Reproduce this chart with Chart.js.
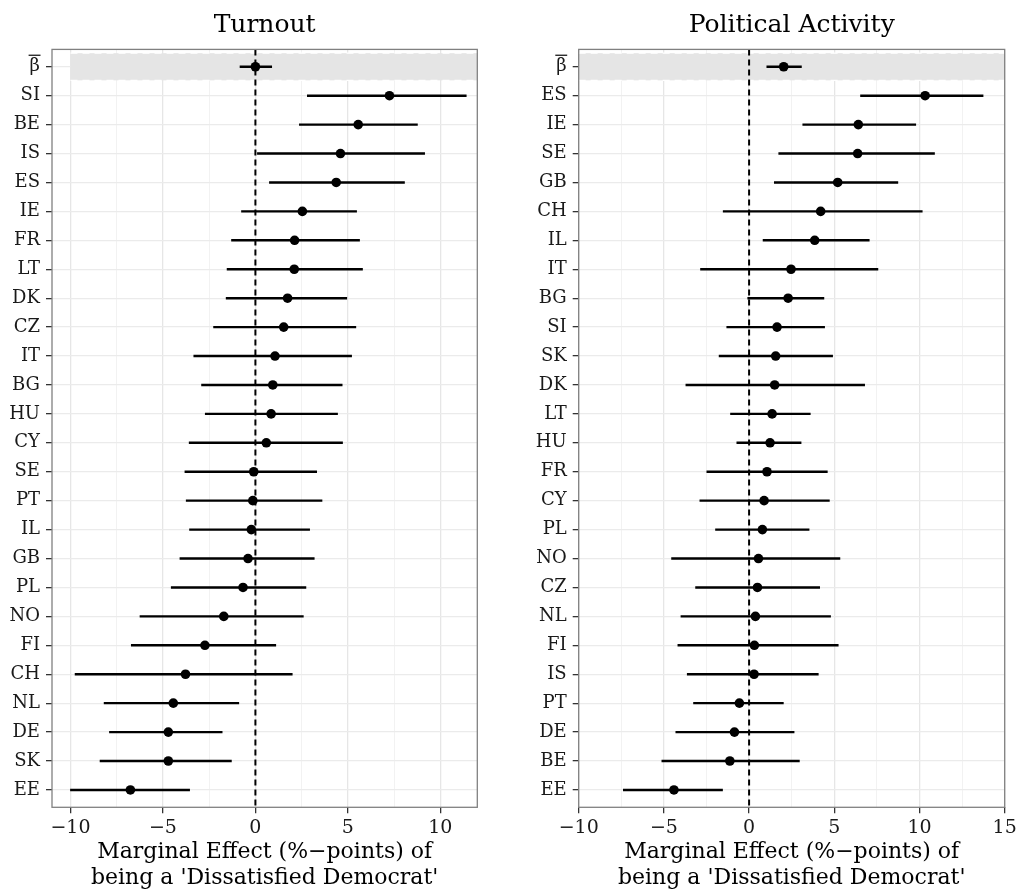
<!DOCTYPE html>
<html><head><meta charset="utf-8">
<script src="https://cdn.jsdelivr.net/npm/chart.js@4/dist/chart.umd.min.js"></script>
<style>
html,body{margin:0;padding:0;background:#fff;}
#wrap{position:relative;width:1016px;height:896px;overflow:hidden;}
canvas{position:absolute;top:0;}
</style></head><body>
<div id="wrap"><canvas id="c1" width="508" height="896" style="left:0"></canvas><canvas id="c2" width="508" height="896" style="left:508px"></canvas></div>
<script>
const BETA = '\u03B2';   // drawn with an overline (β̄)

// ---- Turnout panel ----
const turnoutLabels = [BETA,'SI','BE','IS','ES','IE','FR','LT','DK','CZ','IT','BG','HU','CY','SE','PT','IL','GB','PL','NO','FI','CH','NL','DE','SK','EE'];
const turnoutEst = [0.00, 7.25, 5.56, 4.60, 4.37, 2.54, 2.12, 2.10, 1.74, 1.53, 1.06, 0.94, 0.85, 0.59, -0.09, -0.14, -0.22, -0.40, -0.67, -1.71, -2.73, -3.78, -4.44, -4.71, -4.71, -6.76];
const turnoutLo  = [-0.85, 2.79, 2.36, 0.09, 0.74, -0.77, -1.31, -1.55, -1.60, -2.28, -3.35, -2.93, -2.73, -3.60, -3.83, -3.76, -3.58, -4.10, -4.57, -6.26, -6.73, -9.77, -8.20, -7.91, -8.42, -10.02];
const turnoutHi  = [0.90, 11.42, 8.78, 9.17, 8.08, 5.49, 5.65, 5.81, 4.96, 5.45, 5.22, 4.71, 4.46, 4.73, 3.33, 3.62, 2.95, 3.20, 2.75, 2.61, 1.12, 2.01, -0.88, -1.78, -1.28, -3.54];
const turnoutMajorTicks = [-10, -5, 0, 5, 10];
const turnoutMinorTicks = [-7.5, -2.5, 2.5, 7.5];
const turnoutRange = [-11, 12];

// ---- Political Activity panel ----
const activityLabels = [BETA,'ES','IE','SE','GB','CH','IL','IT','BG','SI','SK','DK','LT','HU','FR','CY','PL','NO','CZ','NL','FI','IS','PT','DE','BE','EE'];
const activityEst = [2.03, 10.33, 6.41, 6.37, 5.20, 4.20, 3.85, 2.46, 2.29, 1.64, 1.56, 1.50, 1.35, 1.23, 1.05, 0.88, 0.78, 0.55, 0.49, 0.37, 0.31, 0.29, -0.57, -0.86, -1.13, -4.41];
const activityLo  = [1.02, 6.52, 3.13, 1.72, 1.46, -1.54, 0.80, -2.87, -0.10, -1.33, -1.78, -3.73, -1.11, -0.74, -2.50, -2.91, -1.99, -4.57, -3.16, -4.02, -4.20, -3.65, -3.28, -4.32, -5.14, -7.40];
const activityHi  = [3.09, 13.75, 9.80, 10.90, 8.75, 10.18, 7.07, 7.58, 4.41, 4.45, 4.92, 6.80, 3.61, 3.07, 4.61, 4.73, 3.54, 5.35, 4.16, 4.80, 5.25, 4.08, 2.03, 2.66, 2.97, -1.54];
const activityMajorTicks = [-10, -5, 0, 5, 10, 15];
const activityMinorTicks = [-7.5, -2.5, 2.5, 7.5, 12.5];
const activityRange = [-10, 15];

const REF_LINE = 0;
const BAND_FROM = -10;
const X_TITLE = ['Marginal Effect (%\u2212points) of', "being a 'Dissatisfied Democrat'"];
const FONT = 'DejaVu Serif';
const Y_FONT_SIZE = 18, Y_TICK_LEN = 6, Y_TICK_PAD = 6;

function fmt(v){ return v < 0 ? '\u2212' + Math.abs(v) : String(v); }

function makeChart(id, o) {
  const n = o.labels.length;
  const yMin = -0.6, yMax = n - 1 + 0.6;
  const segs = [];
  o.lo.forEach((l, i) => { segs.push({x:l, y:i}); segs.push({x:o.hi[i], y:i}); segs.push({x:null, y:null}); });
  const pts = o.est.map((v, i) => ({x:v, y:i}));
  const isMajor = v => o.major.includes(v);

  const panelPlugin = {
    id: 'panel' + id,
    beforeDatasetsDraw(chart) {
      const {ctx, chartArea: a, scales: {x, y}} = chart;
      const x0 = Math.max(a.left, x.getPixelForValue(BAND_FROM));
      const yt = y.getPixelForValue(-0.47), yb = y.getPixelForValue(0.47);
      ctx.save();
      ctx.fillStyle = '#E5E5E5';
      ctx.fillRect(x0, yt, a.right - x0, yb - yt);
      ctx.strokeStyle = '#FFFFFF';
      ctx.lineWidth = 1.2;
      ctx.setLineDash([7, 5]);
      ctx.beginPath();
      ctx.moveTo(x0, yt); ctx.lineTo(a.right, yt);
      ctx.moveTo(x0, yb); ctx.lineTo(a.right, yb);
      ctx.stroke();
      ctx.restore();
    },
    afterDraw(chart) {
      const {ctx, chartArea: a, scales: {y}} = chart;
      ctx.save();
      ctx.strokeStyle = '#808080';
      ctx.lineWidth = 1.3;
      ctx.strokeRect(a.left, a.top, a.right - a.left, a.bottom - a.top);
      // overline on the beta label
      ctx.font = Y_FONT_SIZE + 'px "' + FONT + '"';
      const w = ctx.measureText(o.labels[0]).width;
      const xr = y.right - Y_TICK_LEN - Y_TICK_PAD;
      const yy = y.getPixelForValue(0) - 11.5;
      ctx.strokeStyle = '#1a1a1a';
      ctx.lineWidth = 1.3;
      ctx.beginPath();
      ctx.moveTo(xr - w - 1, yy); ctx.lineTo(xr + 0.5, yy);
      ctx.stroke();
      ctx.restore();
    }
  };

  return new Chart(document.getElementById(id), {
    type: 'scatter',
    data: {
      datasets: [
        { data: pts, pointRadius: 4.8, pointBackgroundColor: '#000', pointBorderWidth: 0, showLine: false },
        { data: segs, showLine: true, spanGaps: false, borderColor: '#000', borderWidth: 2.4, pointRadius: 0 },
        { data: [{x:REF_LINE, y:yMin}, {x:REF_LINE, y:yMax}], showLine: true, borderColor: '#000', borderWidth: 2, borderDash: [6, 4], pointRadius: 0 }
      ]
    },
    options: {
      responsive: false,
      animation: false,
      events: [],
      layout: { padding: { left: 0, right: o.padRight, top: 0, bottom: 0 } },
      plugins: {
        legend: { display: false },
        tooltip: { enabled: false },
        title: {
          display: true, text: o.title, fullSize: false, color: '#000',
          font: { family: FONT, size: 25, weight: 'normal', lineHeight: 1.2 },
          padding: { top: 10, bottom: 9.4 }
        }
      },
      scales: {
        x: {
          type: 'linear', min: o.range[0], max: o.range[1], bounds: 'data',
          afterBuildTicks: s => { s.ticks = [...o.major, ...o.minor].sort((a,b)=>a-b).map(v => ({value: v})); },
          afterFit: s => { s.height = 88.7; s.paddingLeft = 0; s.paddingRight = 0; },
          ticks: {
            autoSkip: false, maxRotation: 0, padding: 3, color: '#1a1a1a',
            font: { family: FONT, size: 19 },
            callback: v => isMajor(v) ? fmt(v) : ''
          },
          grid: {
            color: c => (c.tick && isMajor(c.tick.value)) ? '#E6E6E6' : '#F1F1F1',
            lineWidth: c => (c.tick && isMajor(c.tick.value)) ? 1.3 : 0.9,
            tickColor: c => (c.tick && isMajor(c.tick.value)) ? '#333333' : 'rgba(0,0,0,0)',
            tickLength: 6, tickWidth: 1.3
          },
          border: { display: false },
          title: {
            display: true, text: X_TITLE, color: '#000',
            font: { family: FONT, size: 22, lineHeight: 1.214 },
            padding: { top: 0, bottom: 4 }
          }
        },
        y: {
          type: 'linear', min: yMin, max: yMax, reverse: true, bounds: 'data',
          afterBuildTicks: s => { s.ticks = o.labels.map((_, i) => ({value: i})); },
          afterFit: s => { s.width = o.yWidth; s.paddingTop = 0; s.paddingBottom = 0; },
          ticks: {
            autoSkip: false, padding: Y_TICK_PAD, color: '#1a1a1a',
            font: { family: FONT, size: Y_FONT_SIZE },
            callback: v => o.labels[v]
          },
          grid: { color: '#EBEBEB', lineWidth: 1.3, tickColor: '#333333', tickLength: Y_TICK_LEN, tickWidth: 1.3 },
          border: { display: false }
        }
      }
    },
    plugins: [panelPlugin]
  });
}

makeChart('c1', {
  title: 'Turnout', labels: turnoutLabels, est: turnoutEst, lo: turnoutLo, hi: turnoutHi,
  major: turnoutMajorTicks, minor: turnoutMinorTicks, range: turnoutRange,
  yWidth: 52, padRight: 30.7
});
makeChart('c2', {
  title: 'Political Activity', labels: activityLabels, est: activityEst, lo: activityLo, hi: activityHi,
  major: activityMajorTicks, minor: activityMinorTicks, range: activityRange,
  yWidth: 70.7, padRight: 11.3
});
</script>
</body></html>
